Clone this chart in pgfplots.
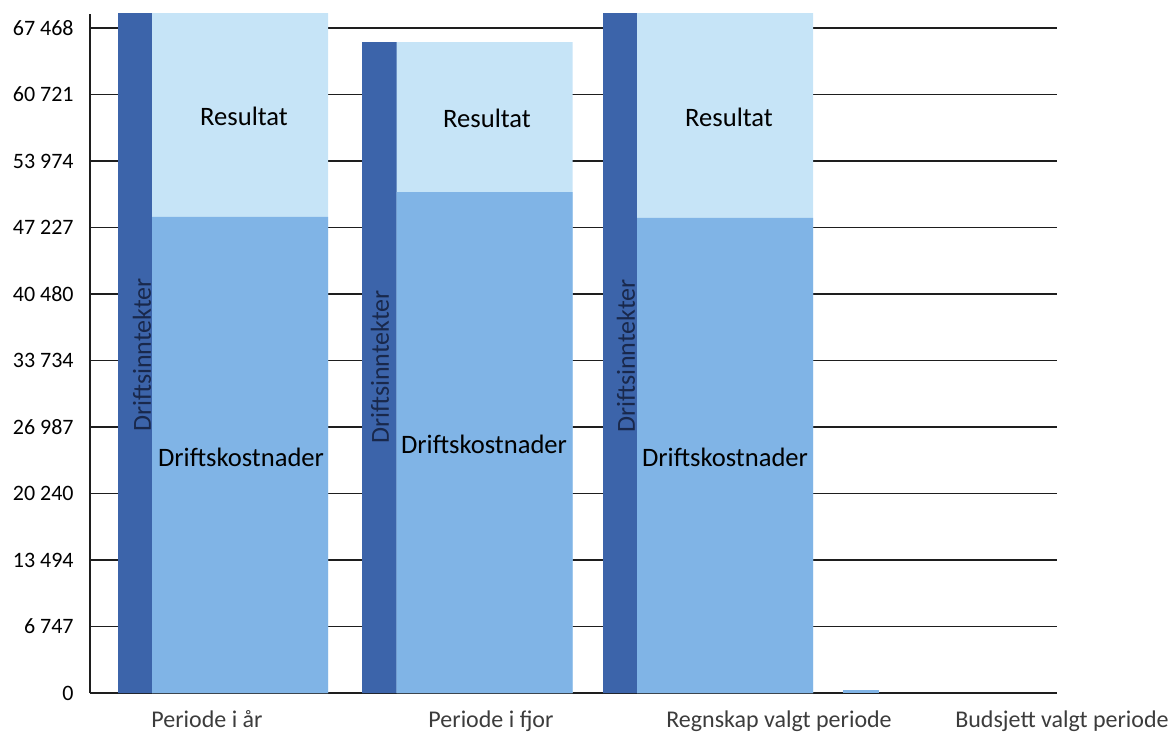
\documentclass[border=0pt]{standalone}
\usepackage{fontspec}
\setmainfont{Carlito}
\usepackage{pgfplots}
\pgfplotsset{compat=1.18}
\definecolor{inntekt}{RGB}{60,100,170}
\definecolor{kostnad}{RGB}{128,180,230}
\definecolor{resultat}{RGB}{198,228,247}
\definecolor{gridc}{RGB}{30,30,30}
\definecolor{catc}{RGB}{60,60,60}
\definecolor{innttext}{RGB}{25,40,75}
\begin{document}
\begin{tikzpicture}
\useasboundingbox (-45pt,-21pt) rectangle (540pt,346.5pt);
\begin{axis}[
  scale only axis, width=483.5pt, height=339.5pt,
  xmin=0, xmax=967, ymin=0, ymax=68891,
  axis x line*=bottom, axis y line*=left,
  axis line style={gridc, line width=0.8pt},
  ytick={0,6747,13494,20240,26987,33734,40480,47227,53974,60721,67468},
  yticklabels={0,6 747,13 494,20 240,26 987,33 734,40 480,47 227,53 974,60 721,67 468},
  xtick={117,401,689},
  xticklabels={Periode i år,Periode i fjor,Regnskap valgt periode},
  extra x ticks={966},
  extra x tick labels={Budsjett valgt periode},
  extra x tick style={xticklabel style={xshift=3pt}, tick style={draw=none}, grid=none},
  major tick length=0pt,
  tick style={draw=none},
  ymajorgrids, grid style={gridc, line width=0.75pt},
  yticklabel style={font=\fontsize{11}{13}\selectfont, inner sep=0pt, anchor=east, xshift=-8pt},
  xticklabel style={font=\fontsize{12}{14}\selectfont, text=catc, inner sep=0pt, anchor=north, yshift=-8.5pt},
  clip=true,
]
% Driftsinntekter (narrow dark bars)
\addplot[ybar, bar width=35, bar shift=0pt, fill=inntekt, draw=none]
  coordinates {(45.5,69500) (289.5,66049) (530.5,69500)};
% Resultat on top of Driftskostnader (total height)
\addplot[ybar, bar width=176, bar shift=0pt, fill=resultat, draw=none]
  coordinates {(150,69500) (394.5,66049) (635,69500)};
% Driftskostnader
\addplot[ybar, bar width=176, bar shift=0pt, fill=kostnad, draw=none]
  coordinates {(150,48295) (394.5,50830) (635,48194)};
% Budsjett valgt periode (tiny)
\addplot[ybar, bar width=36, bar shift=0pt, fill=kostnad, draw=none]
  coordinates {(771,300)};
% labels
\node[font=\fontsize{13.3}{16}\selectfont] at (axis cs:154,58542) {Resultat};
\node[font=\fontsize{13.3}{16}\selectfont] at (axis cs:397,58339) {Resultat};
\node[font=\fontsize{13.3}{16}\selectfont] at (axis cs:639,58440) {Resultat};
\node[font=\fontsize{13.3}{16}\selectfont] at (axis cs:151,23944) {Driftskostnader};
\node[font=\fontsize{13.3}{16}\selectfont] at (axis cs:394,25263) {Driftskostnader};
\node[font=\fontsize{13.3}{16}\selectfont] at (axis cs:635,23944) {Driftskostnader};
\node[rotate=90, text=innttext, font=\fontsize{13}{16}\selectfont] at (axis cs:52,34293) {Driftsinntekter};
\node[rotate=90, text=innttext, font=\fontsize{13}{16}\selectfont] at (axis cs:290,33076) {Driftsinntekter};
\node[rotate=90, text=innttext, font=\fontsize{13}{16}\selectfont] at (axis cs:536,34192) {Driftsinntekter};
\end{axis}
\end{tikzpicture}
\end{document}
